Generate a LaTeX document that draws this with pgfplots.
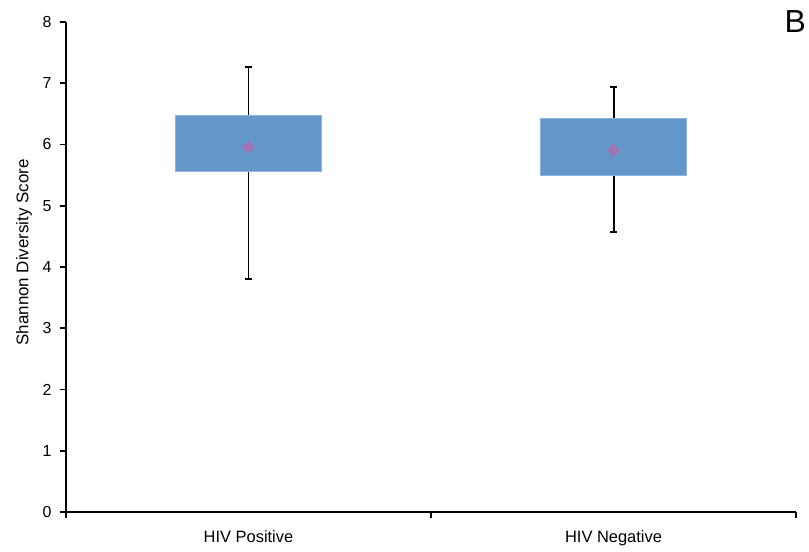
\documentclass[border=0pt]{standalone}
\usepackage{fontspec}
\setmainfont{Liberation Sans}
\usepackage{pgfplots}
\pgfplotsset{compat=1.18}
\definecolor{boxblue}{RGB}{99,150,201}
\definecolor{boxedge}{RGB}{140,180,222}
\definecolor{meanpink}{RGB}{168,112,178}
\begin{document}
\begin{tikzpicture}
\useasboundingbox (-66bp,-40bp) rectangle (743bp,512bp);
\begin{axis}[
  scale only axis,
  width=730bp, height=490bp,
  xmin=0, xmax=2, ymin=0, ymax=8,
  axis x line=bottom, axis y line=left,
  axis line style={-, line width=1.9pt, black},
  tick align=outside,
  major tick length=6bp,
  tick style={line width=1.6pt, black},
  yticklabel style={font=\fontsize{16}{18}\selectfont, xshift=-5bp},
  xticklabel style={font=\fontsize{16.5}{18}\selectfont},
  xtick={0,1,2}, xticklabels={},
  extra x ticks={0.5,1.5},
  extra x tick labels={HIV Positive, HIV Negative},
  extra x tick style={major tick length=0pt, tick label style={yshift=-15bp}},
  ytick={0,1,...,8},
  /pgf/number format/assume math mode=true,
  ylabel={Shannon Diversity Score},
  every axis y label/.style={at={(axis description cs:0,0.53)}, xshift=-42bp,
    rotate=90, anchor=center, font=\fontsize{17}{19}\selectfont},
  clip=false,
]
% whiskers (lower whisker to upper whisker, with caps)
\addplot[black, line width=2pt, mark=-, mark size=3.2bp]
  coordinates {(0.5,3.80) (0.5,7.27)};
\addplot[black, line width=2pt, mark=-, mark size=3.2bp]
  coordinates {(1.5,4.57) (1.5,6.94)};
% boxes (lower quartile to upper quartile)
\addplot[fill=boxblue, draw=boxedge, line width=0.6pt]
  coordinates {(0.3,5.57) (0.7,5.57) (0.7,6.48) (0.3,6.48)} -- cycle;
\addplot[fill=boxblue, draw=boxedge, line width=0.6pt]
  coordinates {(1.3,5.50) (1.7,5.50) (1.7,6.43) (1.3,6.43)} -- cycle;
% means
\addplot[only marks, mark=square*, mark size=4.3bp, mark options={rotate=45, line width=0pt},
  color=meanpink, fill opacity=0.85, draw opacity=0.85]
  coordinates {(0.5,5.96) (1.5,5.91)};
\end{axis}
\node[anchor=base east, inner sep=0, font=\fontsize{32}{34}\selectfont] at (740bp,479bp) {B};
\end{tikzpicture}
\end{document}
